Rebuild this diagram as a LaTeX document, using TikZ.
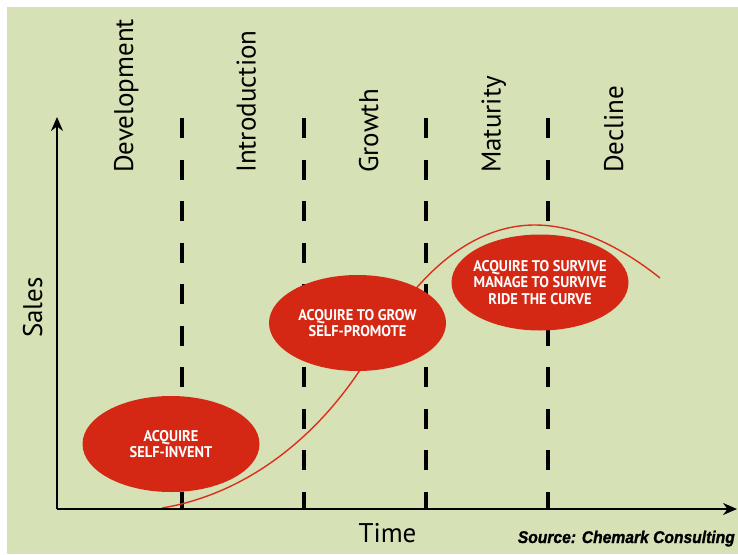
\documentclass[tikz,border=0pt]{standalone}
\usepackage{fontspec}
\setmainfont{PT Sans}
\newfontfamily\blobfont[FakeStretch=0.93]{PT Sans}
\newfontfamily\srcfont[FakeStretch=0.92,FakeBold=1.2]{Liberation Sans}
\usetikzlibrary{shapes.geometric,arrows.meta}
\definecolor{bgreen}{RGB}{214,226,182}
\definecolor{blobred}{RGB}{212,40,20}
\definecolor{curvered}{RGB}{222,45,30}

\begin{document}
\begin{tikzpicture}[x=1pt,y=-1pt,
  axis/.style={line width=2pt, -{Stealth[length=14pt,width=12pt]}},
  phaseline/.style={black, line width=3.5pt, dash pattern=on 20pt off 21.5pt},
  stage/.style={rotate=90, anchor=base west, inner sep=0pt, font=\fontsize{27}{30}\selectfont},
  blob/.style={ellipse, fill=blobred, inner sep=0pt, minimum width=177pt, minimum height=96pt},
  blobtext/.style={text=white, align=center, inner sep=0pt, font=\blobfont\bfseries\fontsize{15.5}{16.8}\selectfont},
  lifecurve/.style={curvered, line width=1.4pt},
]
\useasboundingbox (0,0) rectangle (738,554);
% background
\fill[white] (0,0) rectangle (738,554);
\fill[bgreen] (7,7) rectangle (738,554);

% axes end points
\coordinate (o) at (57,509);
\coordinate (ytop) at (57,117);
\coordinate (xend) at (737,509);

% stage boundaries
\foreach \i/\x in {1/182,2/304,3/426,4/548}{
  \coordinate (b\i top) at (\x,118);
  \coordinate (b\i bot) at (\x,509);
  \draw[phaseline] (b\i top) -- (b\i bot);
}

% sales curve
\coordinate (c0) at (162,508);
\coordinate (c1) at (360,370);
\coordinate (c2) at (420,284);
\coordinate (c3) at (535,225);
\coordinate (c4) at (660,278);
\draw[lifecurve] (c0) .. controls (240,495) and (310,445) .. (c1)
  .. controls (380,340) and (400,305) .. (c2)
  .. controls (460,240) and (500,225) .. (c3)
  .. controls (580,225) and (625,250) .. (c4);

% axes
\draw[axis] (o) -- (ytop);
\draw[axis] (o) -- (xend);

% strategy ellipses
\node[blob] (e1) at (171,444) {};
\node[blob] (e2) at (357.5,323) {};
\node[blob] (e3) at (540,282.5) {};
\node[blobtext] (t1) at (e1) {ACQUIRE\\SELF-INVENT};
\node[blobtext] (t2) at (e2) {ACQUIRE TO GROW\\SELF-PROMOTE};
\node[blobtext] (t3) at (e3) {ACQUIRE TO SURVIVE\\MANAGE TO SURVIVE\\RIDE THE CURVE};

% stage names
\node[stage] (dev) at (133,173) {Development};
\node[stage] (intro) at (255.5,173) {Introduction};
\node[stage] (grow) at (378,173) {Growth};
\node[stage] (mat) at (500.5,173) {Maturity};
\node[stage] (dec) at (623,173) {Decline};

% axis titles
\node[stage] (sales) at (42,338) {Sales};
\node[anchor=base, inner sep=0pt, font=\fontsize{27}{30}\selectfont] (time) at (387.5,542) {Time};
\node[anchor=base east, inner sep=0pt, font=\srcfont\bfseries\itshape\fontsize{17}{20}\selectfont] (src) at (735,543) {Source: Chemark Consulting};
\end{tikzpicture}
\end{document}
